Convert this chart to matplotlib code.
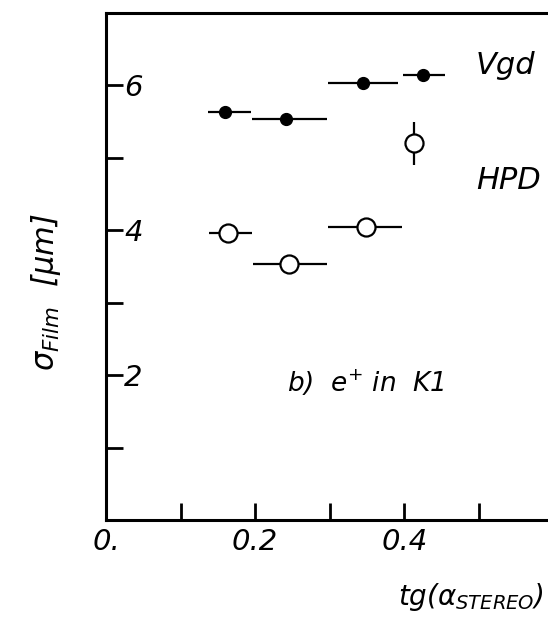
import matplotlib.pyplot as plt

# Vgd points (filled)
vgd_x = [0.160, 0.241, 0.344, 0.425]
vgd_y = [5.63, 5.54, 6.04, 6.15]
vgd_xlo = [0.137, 0.196, 0.297, 0.398]
vgd_xhi = [0.195, 0.296, 0.392, 0.454]

# HPD points (open)
hpd_x = [0.164, 0.246, 0.348]
hpd_y = [3.96, 3.54, 4.04]
hpd_xlo = [0.138, 0.197, 0.297]
hpd_xhi = [0.196, 0.296, 0.397]

# single HPD point with vertical error
hpd_single_x = [0.413]
hpd_single_y = [5.20]
hpd_single_yerr = [0.30]

xticks_major = [0.0, 0.2, 0.4]
xtick_labels = ['0.', '0.2', '0.4']
xticks_minor = [0.1, 0.3, 0.5]
yticks_major = [2, 4, 6]
yticks_minor = [1, 3, 5]

plt.rcParams['mathtext.fontset'] = 'dejavusans'
plt.rcParams['font.style'] = 'italic'

fig = plt.figure(figsize=(5.48, 6.23), dpi=100)
ax = fig.add_axes([106 / 548, 1 - 520 / 623, 1 - 106 / 548 + 0.01, 507 / 623])

def xerr(x, lo, hi):
    return [[a - b for a, b in zip(x, lo)], [b - a for a, b in zip(x, hi)]]

ax.errorbar(vgd_x, vgd_y, xerr=xerr(vgd_x, vgd_xlo, vgd_xhi), fmt='o', color='black',
            ms=8.5, elinewidth=1.6, capsize=0)
ax.errorbar(hpd_x, hpd_y, xerr=xerr(hpd_x, hpd_xlo, hpd_xhi), fmt='o', color='black',
            mfc='white', mec='black', mew=1.6, ms=13, elinewidth=1.6, capsize=0)
ax.errorbar(hpd_single_x, hpd_single_y, yerr=hpd_single_yerr, fmt='o', color='black',
            mfc='white', mec='black', mew=1.6, ms=13, elinewidth=1.6, capsize=0)

ax.set_xlim(0, 0.6)
ax.set_ylim(0, 7.0)

ax.set_xticks(xticks_major)
ax.set_xticklabels(xtick_labels)
ax.set_xticks(xticks_minor, minor=True)
ax.set_yticks(yticks_major)
ax.set_yticks(yticks_minor, minor=True)

ax.tick_params(axis='both', which='both', direction='in', length=12, width=2,
               labelsize=21)
ax.tick_params(axis='x', which='major', pad=6)
ax.tick_params(axis='y', which='major', pad=-13)
for lab in ax.get_yticklabels():
    lab.set_horizontalalignment('left')

for s in ['left', 'bottom', 'top']:
    ax.spines[s].set_linewidth(2.2)
ax.spines['right'].set_visible(False)

ax.text(0.536, 6.28, 'Vgd', fontsize=22, ha='center', va='center')
ax.text(0.540, 4.69, 'HPD', fontsize=22, ha='center', va='center')
ax.text(0.243, 1.89, r'b)  e$^{+}$ in  K1', fontsize=19, ha='left', va='center')

fig.text(544 / 548, 1 - 597 / 623, r'$tg(\alpha_{STEREO})$', fontsize=20,
         ha='right', va='center')
ax.set_ylabel(r'$\sigma_{Film}$  [$\mu$m]', fontsize=22)
ax.yaxis.set_label_coords(-0.095, 0.45)

fig.savefig('out.png', dpi=100)
